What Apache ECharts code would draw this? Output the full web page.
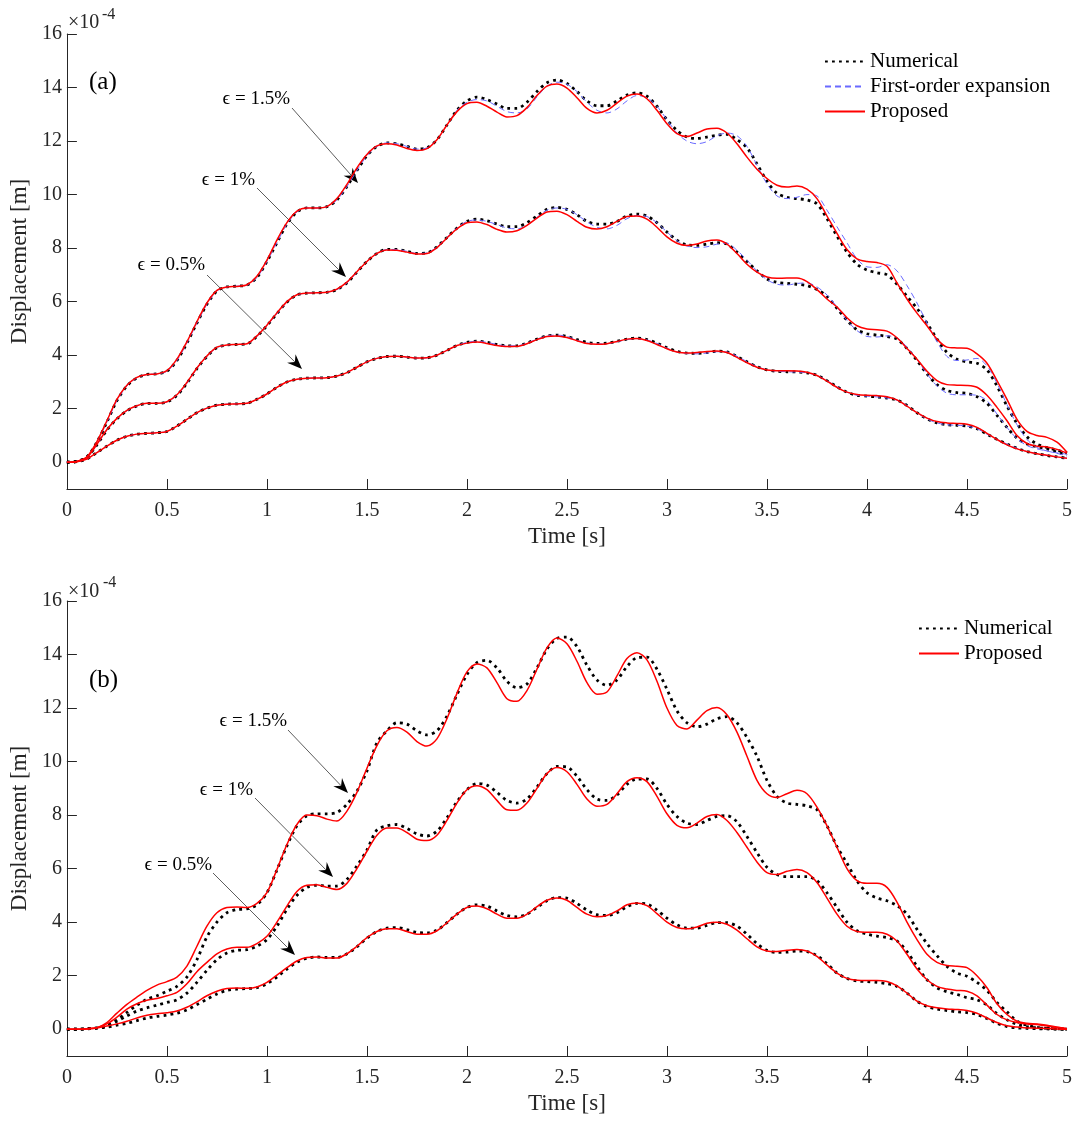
<!DOCTYPE html>
<html>
<head>
<meta charset="utf-8">
<script src="https://cdn.jsdelivr.net/npm/echarts@6/dist/echarts.min.js"></script>
<style>
  html, body { margin: 0; padding: 0; background: #fff; }
  #chart { width: 1077px; height: 1123px; }
</style>
</head>
<body>
<div id="chart"></div>
<script>
// 时间轴采样点 (s)
var times = [0,0.05,0.1,0.15,0.2,0.25,0.3,0.35,0.4,0.45,
  0.5,0.55,0.6,0.65,0.7,0.75,0.8,0.85,0.9,0.95,
  1,1.05,1.1,1.15,1.2,1.25,1.3,1.35,1.4,1.45,
  1.5,1.55,1.6,1.65,1.7,1.75,1.8,1.85,1.9,1.95,
  2,2.05,2.1,2.15,2.2,2.25,2.3,2.35,2.4,2.45,
  2.5,2.55,2.6,2.65,2.7,2.75,2.8,2.85,2.9,2.95,
  3,3.05,3.1,3.15,3.2,3.25,3.3,3.35,3.4,3.45,
  3.5,3.55,3.6,3.65,3.7,3.75,3.8,3.85,3.9,3.95,
  4,4.05,4.1,4.15,4.2,4.25,4.3,4.35,4.4,4.45,
  4.5,4.55,4.6,4.65,4.7,4.75,4.8,4.85,4.9,4.95,
  5];
var yTicks = [0, 2, 4, 6, 8, 10, 12, 14, 16];

// (a) 位移 (x1e-4 m)
var numA15 = [0,0.03,0.2,0.75,1.5,2.3,2.85,3.15,3.28,3.3,
  3.4,3.8,4.45,5.2,5.9,6.4,6.55,6.58,6.62,6.9,
  7.5,8.2,8.9,9.35,9.5,9.5,9.55,9.8,10.3,10.9,
  11.45,11.8,11.93,11.9,11.8,11.7,11.75,12.05,12.6,13.15,
  13.5,13.64,13.55,13.38,13.22,13.22,13.45,13.85,14.18,14.28,
  14.15,13.85,13.5,13.32,13.32,13.5,13.72,13.8,13.68,13.3,
  12.8,12.4,12.15,12.1,12.15,12.22,12.25,12.05,11.75,11.15,
  10.5,10.05,9.9,9.85,9.8,9.65,9.1,8.45,7.85,7.4,
  7.18,7.08,7.0,6.65,6.2,5.75,5.2,4.6,4.1,3.85,
  3.75,3.7,3.45,2.85,2.1,1.45,0.95,0.68,0.55,0.45,
  0.34];
var fosA15 = [0,0.03,0.2,0.75,1.5,2.3,2.85,3.15,3.28,3.3,
  3.4,3.8,4.45,5.2,5.9,6.4,6.55,6.58,6.62,6.9,
  7.5,8.2,8.9,9.35,9.5,9.5,9.55,9.8,10.3,10.9,
  11.45,11.8,11.93,11.9,11.8,11.7,11.75,12.05,12.6,13.15,
  13.45,13.55,13.5,13.3,13.1,13.05,13.2,13.65,14.05,14.2,
  14.12,13.85,13.45,13.15,13.05,13.2,13.5,13.7,13.62,13.3,
  12.8,12.3,12.0,11.9,11.98,12.2,12.3,12.2,11.8,11.1,
  10.4,9.95,9.85,9.9,10.0,9.95,9.42,8.8,8.2,7.6,
  7.3,7.28,7.38,7.15,6.6,5.95,5.2,4.5,3.95,3.8,
  3.82,3.88,3.6,2.95,2.15,1.4,0.85,0.55,0.42,0.35,
  0.3];
var proA15 = [0,0.03,0.2,0.77,1.55,2.35,2.88,3.17,3.28,3.3,
  3.42,3.85,4.5,5.25,5.95,6.42,6.55,6.57,6.63,6.95,
  7.55,8.3,8.95,9.38,9.5,9.5,9.55,9.85,10.38,11.0,
  11.5,11.82,11.9,11.85,11.72,11.65,11.72,12.05,12.6,13.1,
  13.4,13.45,13.3,13.08,12.9,12.95,13.25,13.7,14.05,14.13,
  13.98,13.62,13.22,13.05,13.15,13.42,13.68,13.76,13.58,13.15,
  12.65,12.28,12.17,12.3,12.45,12.48,12.3,11.9,11.4,10.95,
  10.6,10.35,10.28,10.32,10.2,9.85,9.2,8.55,7.95,7.6,
  7.5,7.46,7.32,6.7,6.1,5.57,5.1,4.6,4.3,4.27,
  4.26,4.05,3.7,3.05,2.35,1.6,1.15,1.0,0.93,0.75,
  0.37];
var numA10 = [0,0.03,0.18,0.65,1.2,1.62,1.92,2.1,2.2,2.2,
  2.25,2.5,2.95,3.5,3.95,4.28,4.38,4.4,4.42,4.7,
  5.1,5.55,5.98,6.25,6.32,6.33,6.35,6.45,6.7,7.1,
  7.5,7.8,7.95,7.95,7.88,7.8,7.82,8.05,8.4,8.75,
  9.0,9.08,9.02,8.9,8.8,8.8,8.95,9.2,9.45,9.52,
  9.45,9.25,9.0,8.9,8.9,9.0,9.2,9.27,9.2,8.95,
  8.6,8.3,8.12,8.1,8.15,8.2,8.15,7.85,7.5,7.15,
  6.85,6.72,6.68,6.65,6.6,6.45,6.2,5.75,5.3,4.95,
  4.8,4.75,4.7,4.6,4.25,3.8,3.3,2.9,2.68,2.6,
  2.57,2.45,2.2,1.75,1.3,0.9,0.68,0.58,0.5,0.38,
  0.26];
var fosA10 = [0,0.03,0.18,0.65,1.2,1.62,1.92,2.1,2.2,2.2,
  2.25,2.5,2.95,3.5,3.95,4.28,4.38,4.4,4.42,4.7,
  5.1,5.55,5.98,6.25,6.32,6.33,6.35,6.45,6.7,7.1,
  7.5,7.8,7.95,7.95,7.88,7.8,7.82,8.05,8.4,8.75,
  9.0,9.05,9.0,8.88,8.75,8.72,8.85,9.15,9.42,9.5,
  9.45,9.25,8.98,8.78,8.72,8.85,9.1,9.22,9.18,8.95,
  8.6,8.28,8.08,8.02,8.05,8.15,8.18,7.92,7.55,7.15,
  6.82,6.65,6.62,6.68,6.7,6.55,6.25,5.8,5.3,4.92,
  4.7,4.68,4.72,4.65,4.3,3.85,3.3,2.85,2.58,2.52,
  2.52,2.5,2.3,1.8,1.3,0.88,0.62,0.5,0.42,0.33,
  0.24];
var proA10 = [0,0.03,0.18,0.67,1.22,1.64,1.94,2.11,2.2,2.2,
  2.26,2.52,2.98,3.52,3.97,4.3,4.38,4.4,4.43,4.72,
  5.12,5.58,6.0,6.26,6.32,6.33,6.35,6.47,6.73,7.12,
  7.5,7.8,7.93,7.92,7.85,7.78,7.8,8.02,8.38,8.72,
  8.95,8.98,8.88,8.7,8.6,8.65,8.85,9.12,9.35,9.38,
  9.25,9.0,8.78,8.71,8.8,9.0,9.18,9.2,9.08,8.78,
  8.42,8.18,8.1,8.15,8.27,8.3,8.15,7.8,7.4,7.1,
  6.92,6.87,6.88,6.88,6.75,6.45,6.1,5.8,5.4,5.1,
  4.98,4.95,4.9,4.65,4.25,3.85,3.4,3.05,2.9,2.88,
  2.87,2.8,2.5,2.05,1.55,1.0,0.7,0.6,0.57,0.48,
  0.34];
var numA05 = [0,0.02,0.12,0.36,0.6,0.82,0.97,1.05,1.08,1.1,
  1.15,1.35,1.6,1.85,2.02,2.13,2.17,2.18,2.2,2.35,
  2.55,2.8,3.0,3.1,3.14,3.15,3.16,3.22,3.35,3.55,
  3.75,3.88,3.95,3.96,3.93,3.89,3.9,4.0,4.18,4.36,
  4.48,4.52,4.48,4.4,4.35,4.35,4.45,4.6,4.72,4.75,
  4.7,4.58,4.48,4.44,4.45,4.52,4.6,4.64,4.58,4.45,
  4.28,4.14,4.08,4.07,4.1,4.15,4.12,3.95,3.75,3.57,
  3.45,3.4,3.38,3.37,3.34,3.25,3.05,2.82,2.62,2.5,
  2.47,2.44,2.4,2.32,2.12,1.85,1.62,1.47,1.4,1.38,
  1.35,1.25,1.05,0.85,0.68,0.52,0.4,0.32,0.25,0.2,
  0.15];
var fosA05 = [0,0.02,0.12,0.36,0.6,0.82,0.97,1.05,1.08,1.1,
  1.15,1.35,1.6,1.85,2.02,2.13,2.17,2.18,2.2,2.35,
  2.55,2.8,3.0,3.1,3.14,3.15,3.16,3.22,3.35,3.55,
  3.75,3.88,3.95,3.96,3.93,3.89,3.9,4.0,4.18,4.36,
  4.48,4.52,4.48,4.4,4.35,4.35,4.45,4.6,4.72,4.75,
  4.7,4.56,4.46,4.42,4.43,4.5,4.58,4.62,4.57,4.44,
  4.26,4.12,4.06,4.05,4.08,4.13,4.12,3.96,3.76,3.57,
  3.45,3.4,3.38,3.37,3.34,3.25,3.05,2.82,2.62,2.5,
  2.47,2.44,2.4,2.32,2.12,1.85,1.62,1.47,1.4,1.38,
  1.35,1.25,1.05,0.85,0.68,0.52,0.4,0.32,0.25,0.2,
  0.15];
var proA05 = [0,0.02,0.12,0.36,0.6,0.82,0.97,1.05,1.08,1.1,
  1.15,1.35,1.6,1.85,2.02,2.13,2.17,2.18,2.2,2.35,
  2.55,2.8,3.0,3.1,3.14,3.15,3.16,3.22,3.35,3.55,
  3.75,3.88,3.95,3.96,3.93,3.89,3.9,4.0,4.18,4.36,
  4.45,4.49,4.44,4.36,4.32,4.33,4.43,4.58,4.7,4.72,
  4.66,4.54,4.44,4.41,4.43,4.51,4.6,4.62,4.55,4.4,
  4.24,4.12,4.08,4.1,4.14,4.16,4.1,3.92,3.72,3.55,
  3.45,3.42,3.42,3.41,3.36,3.24,3.03,2.8,2.62,2.53,
  2.5,2.49,2.45,2.33,2.1,1.85,1.65,1.52,1.47,1.45,
  1.42,1.3,1.08,0.85,0.65,0.5,0.4,0.32,0.26,0.2,
  0.15];

// (b) 位移 (x1e-4 m)
var numB15 = [0,0,0.02,0.05,0.15,0.35,0.63,0.9,1.12,1.25,
  1.42,1.6,1.95,2.6,3.45,4.0,4.35,4.47,4.5,4.65,
  5.1,5.95,6.85,7.6,7.98,8.05,8.05,8.1,8.4,8.9,
  9.65,10.7,11.15,11.45,11.4,11.15,11.0,11.15,11.7,12.5,
  13.25,13.7,13.78,13.5,13.0,12.76,12.9,13.5,14.2,14.6,
  14.65,14.3,13.6,13.05,12.85,13.05,13.55,13.88,13.9,13.45,
  12.7,11.9,11.45,11.3,11.4,11.6,11.68,11.45,10.9,10.2,
  9.3,8.7,8.45,8.4,8.35,8.2,7.6,6.83,6.2,5.55,
  5.1,4.9,4.8,4.62,4.3,3.73,3.2,2.75,2.35,2.1,
  1.98,1.75,1.45,1.0,0.65,0.3,0.15,0.07,0.03,0.02,
  0];
var proB15 = [0,0,0.02,0.06,0.25,0.6,0.93,1.2,1.45,1.65,
  1.78,1.95,2.36,3.1,3.85,4.35,4.55,4.57,4.55,4.7,
  5.1,5.97,6.9,7.65,8.0,7.98,7.85,7.78,8.15,8.85,
  9.75,10.6,11.15,11.27,11.1,10.75,10.58,10.85,11.6,12.55,
  13.35,13.65,13.5,12.95,12.35,12.25,12.65,13.45,14.25,14.62,
  14.4,13.75,12.95,12.52,12.6,13.2,13.85,14.07,13.8,13.0,
  12.0,11.35,11.22,11.55,11.9,12.02,11.75,11.1,10.2,9.3,
  8.8,8.66,8.8,8.93,8.8,8.3,7.6,6.8,6.0,5.55,
  5.45,5.45,5.3,4.75,4.0,3.35,2.8,2.5,2.38,2.35,
  2.3,2.0,1.55,0.95,0.55,0.3,0.22,0.2,0.15,0.08,
  0.02];
var numB10 = [0,0,0.02,0.05,0.14,0.3,0.5,0.68,0.8,0.9,
  1.0,1.1,1.35,1.75,2.2,2.6,2.85,2.95,2.97,3.1,
  3.35,3.85,4.48,5.0,5.3,5.38,5.35,5.35,5.6,6.1,
  6.7,7.45,7.6,7.65,7.5,7.3,7.22,7.4,7.9,8.5,
  8.95,9.18,9.12,8.85,8.55,8.45,8.6,9.05,9.55,9.82,
  9.8,9.45,8.95,8.6,8.55,8.75,9.15,9.35,9.35,9.0,
  8.4,7.95,7.7,7.65,7.8,7.95,7.98,7.75,7.2,6.6,
  6.05,5.78,5.7,5.7,5.7,5.55,5.1,4.55,4.0,3.68,
  3.55,3.48,3.42,3.3,2.9,2.35,1.85,1.55,1.4,1.3,
  1.18,1.1,0.9,0.58,0.35,0.18,0.1,0.05,0.03,0.02,
  0];
var proB10 = [0,0,0.02,0.06,0.2,0.45,0.75,0.95,1.08,1.15,
  1.25,1.38,1.7,2.15,2.5,2.82,3.0,3.06,3.06,3.2,
  3.47,4.0,4.6,5.15,5.38,5.4,5.3,5.22,5.45,6.0,
  6.65,7.25,7.52,7.52,7.35,7.1,7.05,7.25,7.8,8.45,
  8.95,9.1,8.95,8.55,8.2,8.18,8.45,9.0,9.55,9.78,
  9.62,9.15,8.6,8.33,8.4,8.8,9.25,9.4,9.25,8.7,
  8.05,7.62,7.53,7.7,7.95,8.02,7.8,7.35,6.8,6.25,
  5.85,5.78,5.9,5.97,5.85,5.48,4.9,4.3,3.85,3.65,
  3.62,3.62,3.55,3.3,2.8,2.25,1.85,1.6,1.5,1.45,
  1.42,1.25,0.9,0.55,0.35,0.25,0.2,0.18,0.12,0.06,
  0.02];
var numB05 = [0,0,0.01,0.04,0.08,0.15,0.22,0.32,0.42,0.48,
  0.53,0.6,0.72,0.92,1.12,1.32,1.45,1.5,1.52,1.55,
  1.7,1.95,2.25,2.5,2.65,2.7,2.68,2.68,2.82,3.08,
  3.4,3.65,3.78,3.8,3.72,3.62,3.6,3.7,3.98,4.3,
  4.55,4.65,4.6,4.42,4.25,4.2,4.3,4.55,4.8,4.92,
  4.9,4.7,4.45,4.28,4.25,4.35,4.58,4.7,4.68,4.45,
  4.15,3.9,3.78,3.78,3.88,3.98,3.98,3.85,3.55,3.2,
  2.95,2.87,2.88,2.92,2.9,2.75,2.45,2.1,1.9,1.8,
  1.78,1.75,1.7,1.6,1.35,1.05,0.85,0.75,0.7,0.65,
  0.62,0.55,0.4,0.22,0.1,0.05,0.03,0.02,0.01,0,
  0];
var proB05 = [0,0,0.01,0.05,0.12,0.2,0.3,0.42,0.52,0.58,
  0.62,0.68,0.82,1.02,1.25,1.42,1.52,1.54,1.53,1.58,
  1.75,2.02,2.3,2.55,2.68,2.7,2.66,2.66,2.82,3.1,
  3.42,3.65,3.75,3.75,3.65,3.55,3.55,3.68,3.98,4.3,
  4.55,4.6,4.5,4.3,4.15,4.15,4.3,4.58,4.82,4.9,
  4.82,4.55,4.3,4.2,4.25,4.42,4.65,4.72,4.62,4.32,
  4.0,3.8,3.75,3.82,3.96,4.0,3.92,3.7,3.38,3.08,
  2.92,2.9,2.95,2.98,2.92,2.72,2.4,2.1,1.9,1.83,
  1.82,1.82,1.78,1.62,1.35,1.05,0.88,0.8,0.76,0.74,
  0.7,0.6,0.42,0.25,0.13,0.08,0.05,0.04,0.03,0.01,
  0];

var FONT = '"Liberation Serif", "DejaVu Serif", serif';
var AXIS_COLOR = '#262626';
var numStyle = {color: '#000000', width: 2.8, type: [2.8, 4.2], cap: 'butt'};
var fosStyle = {color: '#6a6aff', width: 1, type: [6, 4]};
var proStyle = {color: '#ff0000', width: 1.5};

function makeSeries(name, arr, gi, style) {
    return {
        type: 'line',
        name: name,
        xAxisIndex: gi,
        yAxisIndex: gi,
        data: times.map(function (t, i) { return [t, arr[i]]; }),
        symbol: 'none',
        smooth: 0.3,
        silent: true,
        itemStyle: {color: style.color},
        lineStyle: style
    };
}

function makeXAxis(gi) {
    return {
        type: 'value', gridIndex: gi, min: 0, max: 5, interval: 0.5,
        name: 'Time [s]', nameLocation: 'middle', nameGap: 36,
        nameTextStyle: {fontFamily: FONT, fontSize: 23, color: AXIS_COLOR},
        axisLine: {onZero: false, lineStyle: {color: AXIS_COLOR, width: 1}},
        axisTick: {inside: true, length: 10, lineStyle: {color: AXIS_COLOR}},
        axisLabel: {fontFamily: FONT, fontSize: 20, color: AXIS_COLOR, margin: 12},
        splitLine: {show: false}
    };
}

function makeYAxis(gi) {
    return {
        type: 'value', gridIndex: gi, min: -1, max: 16,
        name: 'Displacement [m]', nameLocation: 'middle', nameGap: 21,
        nameTextStyle: {fontFamily: FONT, fontSize: 23, color: AXIS_COLOR},
        axisLine: {onZero: false, lineStyle: {color: AXIS_COLOR, width: 1}},
        axisTick: {inside: true, length: 10, customValues: yTicks, lineStyle: {color: AXIS_COLOR}},
        axisLabel: {fontFamily: FONT, fontSize: 20, color: AXIS_COLOR, margin: 5, customValues: yTicks},
        splitLine: {show: false}
    };
}

// 标注箭头
function arrow(x1, y1, x2, y2) {
    var dx = x2 - x1, dy = y2 - y1;
    var len = Math.sqrt(dx * dx + dy * dy);
    var ux = dx / len, uy = dy / len;
    var px = -uy, py = ux;
    var L = 15, W = 6, N = 10;
    return [
        {type: 'line', shape: {x1: x1, y1: y1, x2: x2 - ux * N, y2: y2 - uy * N},
            style: {stroke: '#333', lineWidth: 0.8}},
        {type: 'polygon', shape: {points: [
            [x2, y2],
            [x2 - ux * L + px * W, y2 - uy * L + py * W],
            [x2 - ux * N, y2 - uy * N],
            [x2 - ux * L - px * W, y2 - uy * L - py * W]
        ]}, style: {fill: '#000'}}
    ];
}

function label(text, x, y) {
    return {type: 'text', x: x, y: y,
        style: {text: text, font: '19px ' + FONT, fill: '#000', align: 'right', verticalAlign: 'middle'}};
}

var graphics = [
    {type: 'text', x: 68, y: 23, style: {text: '×10', font: '20px ' + FONT, fill: AXIS_COLOR, verticalAlign: 'middle'}},
    {type: 'text', x: 102, y: 15, style: {text: '-4', font: '16px ' + FONT, fill: AXIS_COLOR, verticalAlign: 'middle'}},
    {type: 'text', x: 68, y: 592, style: {text: '×10', font: '20px ' + FONT, fill: AXIS_COLOR, verticalAlign: 'middle'}},
    {type: 'text', x: 103, y: 583, style: {text: '-4', font: '16px ' + FONT, fill: AXIS_COLOR, verticalAlign: 'middle'}},
    {type: 'text', x: 89, y: 82, style: {text: '(a)', font: '25px ' + FONT, fill: '#000', verticalAlign: 'middle'}},
    {type: 'text', x: 89, y: 680, style: {text: '(b)', font: '25px ' + FONT, fill: '#000', verticalAlign: 'middle'}},
    label('ϵ = 1.5%', 290, 99),
    label('ϵ = 1%', 255, 180),
    label('ϵ = 0.5%', 205, 265),
    label('ϵ = 1.5%', 287, 721),
    label('ϵ = 1%', 253, 790),
    label('ϵ = 0.5%', 212, 865)
].concat(
    arrow(292, 108, 358, 183),
    arrow(257, 188, 346, 277),
    arrow(207, 275, 302, 369),
    arrow(288, 730, 348, 793),
    arrow(255, 798, 333, 877),
    arrow(213, 873, 295, 955)
);

var legendBase = {
    orient: 'vertical', padding: 0, itemWidth: 40, itemHeight: 12, itemGap: 4,
    selectedMode: false,
    itemStyle: {opacity: 0},
    textStyle: {fontFamily: FONT, fontSize: 21, color: '#000'}
};

var chart = echarts.init(document.getElementById('chart'), null, {renderer: 'canvas'});
chart.setOption({
    backgroundColor: '#ffffff',
    animation: false,
    grid: [
        {left: 66, top: 34, width: 1001, height: 455},
        {left: 66, top: 601, width: 1001, height: 455}
    ],
    xAxis: [makeXAxis(0), makeXAxis(1)],
    yAxis: [makeYAxis(0), makeYAxis(1)],
    legend: [
        Object.assign({}, legendBase, {left: 824, top: 51,
            data: ['Numerical', 'First-order expansion', 'Proposed']}),
        Object.assign({}, legendBase, {left: 918, top: 618,
            data: ['Numerical', 'Proposed']})
    ],
    series: [
        makeSeries('Numerical', numA15, 0, numStyle),
        makeSeries('Numerical', numA10, 0, numStyle),
        makeSeries('Numerical', numA05, 0, numStyle),
        makeSeries('First-order expansion', fosA15, 0, fosStyle),
        makeSeries('First-order expansion', fosA10, 0, fosStyle),
        makeSeries('First-order expansion', fosA05, 0, fosStyle),
        makeSeries('Proposed', proA15, 0, proStyle),
        makeSeries('Proposed', proA10, 0, proStyle),
        makeSeries('Proposed', proA05, 0, proStyle),
        makeSeries('Numerical', numB15, 1, numStyle),
        makeSeries('Numerical', numB10, 1, numStyle),
        makeSeries('Numerical', numB05, 1, numStyle),
        makeSeries('Proposed', proB15, 1, proStyle),
        makeSeries('Proposed', proB10, 1, proStyle),
        makeSeries('Proposed', proB05, 1, proStyle)
    ],
    graphic: graphics
});
</script>
</body>
</html>
